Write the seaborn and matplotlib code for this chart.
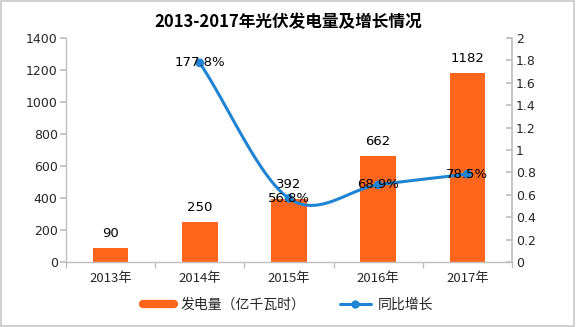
import numpy as np
import pandas as pd
import matplotlib
matplotlib.use("Agg")
import matplotlib.pyplot as plt
import seaborn as sns
from matplotlib.patches import Rectangle

years = ["2013年", "2014年", "2015年", "2016年", "2017年"]
generation = [90, 250, 392, 662, 1182]
growth_years = ["2014年", "2015年", "2016年", "2017年"]
growth = [1.778, 0.568, 0.689, 0.785]
growth_labels = ["177.8%", "56.8%", "68.9%", "78.5%"]
title = "2013-2017年光伏发电量及增长情况"
bar_name = "发电量（亿千瓦时）"
line_name = "同比增长"

sns.set_theme(style="white")
plt.rcParams["font.family"] = ["Noto Sans CJK SC", "DejaVu Sans"]

ORANGE = "#FF661C"
BLUE = "#1F84D4"
GRAY = "#BFBFBF"

fig = plt.figure(figsize=(5.76, 3.27), dpi=100)
ax = fig.add_axes([66/576, 1-262/327, (512-66)/576, (262-38)/327])

df = pd.DataFrame({"year": years, "gen": generation})
sns.barplot(data=df, x="year", y="gen", color=ORANGE, saturation=1, width=0.4, ax=ax, edgecolor="none")
ax.set_ylim(0, 1400)
ax.set_yticks(range(0, 1401, 200))
ax.set_xlim(-0.5, len(years) - 0.5)
ax.set_xlabel("")
ax.set_ylabel("")
for i, v in enumerate(generation):
    ax.text(i, v + 1400 * 0.035, str(v), ha="center", va="bottom", fontsize=9.5, color="#000000",
            family="DejaVu Sans")

for s in ["top", "right"]:
    ax.spines[s].set_visible(False)
for s in ["left", "bottom"]:
    ax.spines[s].set_color(GRAY)
    ax.spines[s].set_linewidth(1)
ax.tick_params(axis="y", which="major", length=4, color=GRAY, direction="out", labelsize=9, pad=2, left=True)
ax.tick_params(axis="x", which="major", length=0, labelsize=9.5, pad=7)
ax.set_xticks(np.arange(-0.5, len(years), 1), minor=True)
ax.tick_params(axis="x", which="minor", length=4, color=GRAY, direction="out", bottom=True)
for lab in ax.get_yticklabels():
    lab.set_family("DejaVu Sans")

ax2 = ax.twinx()
xs = np.array([years.index(y) for y in growth_years], dtype=float)
ys = np.array(growth, dtype=float)

# Catmull-Rom style smoothing for rendering the line (Excel "smoothed line")
def smooth(x, y, n=30):
    px = np.concatenate([[2*x[0]-x[1]], x, [2*x[-1]-x[-2]]])
    py = np.concatenate([[2*y[0]-y[1]], y, [2*y[-1]-y[-2]]])
    outx, outy = [], []
    t = np.linspace(0, 1, n)
    for i in range(1, len(px) - 2):
        p0, p1, p2, p3 = [np.array([px[j], py[j]]) for j in (i-1, i, i+1, i+2)]
        c1 = p1 + (p2 - p0) / 6
        c2 = p2 - (p3 - p1) / 6
        pts = ((1-t)**3)[:, None]*p1 + (3*(1-t)**2*t)[:, None]*c1 + (3*(1-t)*t**2)[:, None]*c2 + (t**3)[:, None]*p2
        outx.extend(pts[:, 0]); outy.extend(pts[:, 1])
    return np.array(outx), np.array(outy)

sx, sy = smooth(xs, ys)
ax2.plot(sx, sy, color=BLUE, lw=2.2, solid_capstyle="round")
sns.scatterplot(x=xs, y=ys, color=BLUE, s=40, ax=ax2, edgecolor="none", zorder=5)
for x, y, lab in zip(xs, ys, growth_labels):
    ax2.text(x, y, lab, ha="center", va="center", fontsize=9.5, color="#000000", family="DejaVu Sans", zorder=6)
ax2.set_ylim(0, 2)
ax2.set_yticks(np.round(np.arange(0, 2.01, 0.2), 1))
ax2.set_yticklabels(["0", "0.2", "0.4", "0.6", "0.8", "1", "1.2", "1.4", "1.6", "1.8", "2"], family="DejaVu Sans")
for s in ["top", "left", "bottom"]:
    ax2.spines[s].set_visible(False)
ax2.spines["right"].set_color(GRAY)
ax2.tick_params(axis="y", length=4, color=GRAY, direction="in", labelsize=9, pad=3, right=True)
ax2.set_ylabel("")
ax2.grid(False)
ax.grid(False)

fig.text(0.5, 1 - 22/327, title, ha="center", va="center", fontsize=12, fontweight="bold", color="#000000")

from matplotlib.lines import Line2D
handles = [Line2D([0], [0], color=ORANGE, lw=6),
           Line2D([0], [0], color=BLUE, lw=2.2, marker="o", markersize=5)]
fig.legend(handles, [bar_name, line_name], loc="center", bbox_to_anchor=(0.5, 1 - 305/327),
           ncol=2, frameon=False, fontsize=10, handlelength=2.2, columnspacing=2.5, handletextpad=0.5)

fig.patches.append(Rectangle((0.002, 0.003), 0.995, 0.994, transform=fig.transFigure, fill=False,
                             edgecolor="#C8C8C8", lw=1.2))
fig.savefig("out.png", dpi=100)
